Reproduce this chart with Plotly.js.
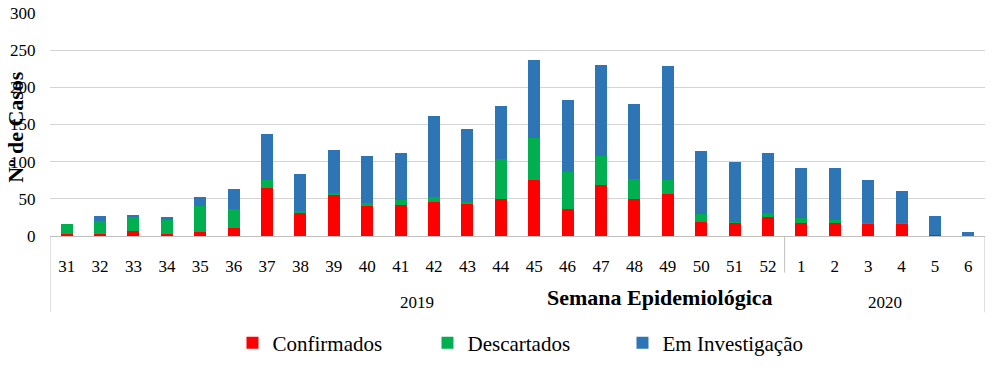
<!DOCTYPE html>
<html>
<head>
<meta charset="utf-8">
<script src="https://cdn.plot.ly/plotly-3.0.1.min.js"></script>
<style>html,body{margin:0;padding:0;background:#fff;}#chart{width:998px;height:376px;}</style>
</head>
<body>
<div id="chart"></div>
<script>
const weeks = ["31","32","33","34","35","36","37","38","39","40","41","42","43","44","45","46","47","48","49","50","51","52","1","2","3","4","5","6"];
const years = ["2019","2019","2019","2019","2019","2019","2019","2019","2019","2019","2019","2019","2019","2019","2019","2019","2019","2019","2019","2019","2019","2019","2020","2020","2020","2020","2020","2020"];
const confirmados = [3,3,7,3,6,11,64,31,55,40,42,46,43,50,76,36,68,50,57,19,17,25,17,17,16,16,2,0];
const descartados = [13,17,18,19,34,25,12,3,3,5,6,6,3,53,56,50,40,27,18,10,2,6,7,5,1,1,0,0];
const investigacao = [0,7,3,3,13,27,61,49,58,63,64,109,98,72,105,97,122,100,154,85,80,81,68,70,59,43,25,5];
const seriesNames = ["Confirmados","Descartados","Em Investigação"];
const colors = ["#FF0000","#00B050","#2E75B6"];
const yTicks = [0,50,100,150,200,250,300];
const xTitle = "Semana Epidemiológica";
const yTitle = "Nº de Casos";

const FONT = "Liberation Serif";
const traces = [confirmados, descartados, investigacao].map((vals, i) => ({
  type: "bar",
  name: seriesNames[i],
  x: weeks,
  y: vals,
  marker: {color: colors[i]},
  hoverinfo: "skip"
}));

// year groups derived from the years array
const groups = [];
years.forEach((yr, i) => {
  const g = groups[groups.length - 1];
  if (g && g.year === yr) g.end = i; else groups.push({year: yr, start: i, end: i});
});
const lineStyle = {color: "#BFBFBF", width: 1};
const shapes = [];
groups.forEach((g, k) => {
  shapes.push({type: "line", xref: "x", yref: "paper", x0: g.start - 0.5, x1: g.start - 0.5,
               y0: 0, y1: k === 0 ? -0.342 : -0.164, line: lineStyle});
});
const lastEnd = groups[groups.length - 1].end + 0.5;
shapes.push({type: "line", xref: "x", yref: "paper", x0: lastEnd, x1: lastEnd, y0: 0, y1: -0.342, line: lineStyle});

const annotations = groups.map(g => ({
  text: g.year, xref: "x", yref: "paper", x: (g.start + g.end) / 2, y: -0.298,
  xanchor: "center", yanchor: "middle", showarrow: false,
  font: {family: FONT, size: 17, color: "#000"}
}));
annotations.push(
  {text: "<b>" + xTitle + "</b>", xref: "paper", yref: "paper", x: 0.652, y: -0.276,
   xanchor: "center", yanchor: "middle", showarrow: false,
   font: {family: FONT, size: 22, color: "#000"}},
  {text: "<b>" + yTitle + "</b>", xref: "paper", yref: "paper", x: 0, xshift: -34, y: 0.49,
   xanchor: "center", yanchor: "middle", textangle: -90, showarrow: false,
   font: {family: FONT, size: 22, color: "#000"}}
);

const layout = {
  width: 998, height: 376,
  margin: {l: 50, r: 13, t: 13, b: 138},
  barmode: "stack",
  bargap: 0.64,
  paper_bgcolor: "#fff",
  plot_bgcolor: "#fff",
  font: {family: FONT, size: 17, color: "#000"},
  xaxis: {
    type: "category",
    categoryorder: "array", categoryarray: weeks,
    range: [-0.5, weeks.length - 0.5],
    showline: true, linecolor: "#BFBFBF", linewidth: 1,
    showgrid: false, zeroline: false,
    ticks: "", ticklabelstandoff: 15,
    tickfont: {family: FONT, size: 17, color: "#000"}
  },
  yaxis: {
    range: [0, 300],
    tickvals: yTicks,
    showgrid: true, gridcolor: "#D4D4D4", gridwidth: 1,
    zeroline: false, showline: false,
    ticks: "outside", ticklen: 10, tickcolor: "rgba(0,0,0,0)",
    tickfont: {family: FONT, size: 17, color: "#000"}
  },
  showlegend: true,
  legend: {
    orientation: "h",
    x: 0.508, xanchor: "center",
    y: -0.48, yanchor: "middle",
    font: {family: FONT, size: 21, color: "#000"},
    traceorder: "normal",
    entrywidth: 150, entrywidthmode: "pixels"
  },
  shapes: shapes,
  annotations: annotations
};

Plotly.newPlot("chart", traces, layout, {displayModeBar: false, staticPlot: true});
</script>
</body>
</html>
